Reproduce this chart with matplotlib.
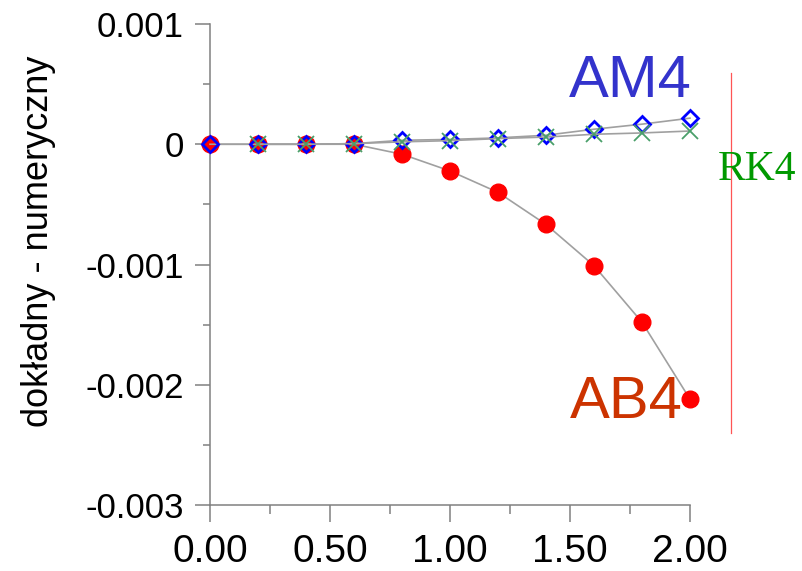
import matplotlib
matplotlib.use('Agg')
import matplotlib.pyplot as plt
from matplotlib import font_manager
from matplotlib.ticker import MultipleLocator, FixedFormatter, FixedLocator

# values
x_ab4 = [0.0, 0.2, 0.4, 0.6, 0.8, 1.0, 1.2, 1.4, 1.6, 1.8, 2.0]
y_ab4 = [0.0, 0.0, 0.0, 0.0, -0.000083, -0.000222, -0.0004, -0.000667,
         -0.00101, -0.00148, -0.00212]
x_am4 = [0.0, 0.2, 0.4, 0.6, 0.8, 1.0, 1.2, 1.4, 1.6, 1.8, 2.0]
y_am4 = [0.0, 0.0, 0.0, 0.000005, 0.000033, 0.00004, 0.000053, 0.000075,
         0.000125, 0.000167, 0.000217]
x_rk4 = [0.2, 0.4, 0.6, 0.8, 1.0, 1.2, 1.4, 1.6, 1.8, 2.0]
y_rk4 = [0.0, 0.0, 0.000005, 0.00002, 0.00003, 0.000047, 0.00006, 0.000083,
         0.000094, 0.00011]

x_ticks = [0.0, 0.5, 1.0, 1.5, 2.0]
x_ticklabels = ['0.00', '0.50', '1.00', '1.50', '2.00']
y_ticks = [0.001, 0.0, -0.001, -0.002, -0.003]
y_ticklabels = ['0.001', '0', '-0.001', '-0.002', '-0.003']

installed = {f.name for f in font_manager.fontManager.ttflist}
narrow = 'Liberation Sans Narrow' if 'Liberation Sans Narrow' in installed else 'Liberation Sans'
label_size = 46 if narrow == 'Liberation Sans Narrow' else 43
plt.rcParams['font.family'] = ['Liberation Sans', 'DejaVu Sans']

fig = plt.figure(figsize=(8.03, 5.71), dpi=100)
ax = fig.add_axes([210 / 803, 1 - 505 / 571, 480 / 803, 481 / 571])

line_kw = dict(color='#a0a0a0', lw=1.2, clip_on=False)
ax.plot(x_ab4, y_ab4, marker='o', ms=12, mfc='#ff0000', mec='#ff0000',
        zorder=3, **line_kw)
ax.plot(x_am4, y_am4, marker='D', ms=8, mfc='none', mec='#0000ff', mew=2,
        zorder=4, **line_kw)
ax.plot(x_rk4, y_rk4, marker='x', ms=11, mec='#4a9f6a', mew=1.3,
        zorder=5, **line_kw)

ax.set_xlim(0, 2.0)
ax.set_ylim(-0.003, 0.001)

for s in ['top', 'right']:
    ax.spines[s].set_visible(False)
for s in ['left', 'bottom']:
    ax.spines[s].set_color('#808080')
    ax.spines[s].set_linewidth(1.1)

ax.xaxis.set_major_locator(FixedLocator(x_ticks))
ax.xaxis.set_major_formatter(FixedFormatter(x_ticklabels))
ax.xaxis.set_minor_locator(MultipleLocator(0.25))
ax.yaxis.set_major_locator(FixedLocator(y_ticks))
ax.yaxis.set_major_formatter(FixedFormatter(y_ticklabels))
ax.yaxis.set_minor_locator(MultipleLocator(0.0005))

ax.tick_params(axis='x', which='major', length=12, width=1.1, color='#808080',
               labelsize=28, pad=9, direction='out')
ax.tick_params(axis='x', which='minor', length=6.5, width=1.1, color='#808080',
               direction='out')
ax.tick_params(axis='y', which='major', length=11, width=1.1, color='#808080',
               labelsize=25, pad=8, direction='out')
ax.tick_params(axis='y', which='minor', length=5, width=1.1, color='#808080',
               direction='out')

ax.set_ylabel('dokładny - numeryczny', fontsize=26)
ax.yaxis.set_label_coords(-0.32, 0.549)

ax.text(2.008, 0.00039, 'AM4', color='#3333cc', fontsize=label_size,
        family=narrow, ha='right', va='baseline', clip_on=False)
ax.text(1.971, -0.002275, 'AB4', color='#cc3300', fontsize=label_size,
        family=narrow, ha='right', va='baseline', clip_on=False)
ax.text(2.117, -0.0003, 'RK4', color='#009900', fontsize=30,
        family='Liberation Serif', ha='left', va='baseline', clip_on=False)

ax.plot([2.171, 2.171], [0.000592, -0.0024], color='#ff5555', lw=0.9,
        clip_on=False)

fig.savefig('out.png', dpi=100)
